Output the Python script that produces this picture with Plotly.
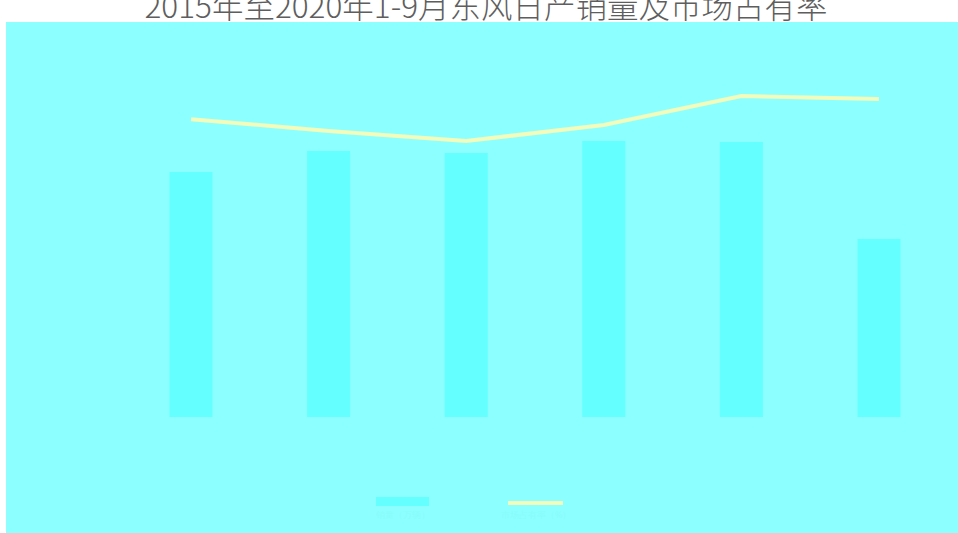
import plotly.graph_objects as go

# Data
years = ["2015", "2016", "2017", "2018", "2019", "2020年1-9月"]
sales = [115.6, 125.5, 124.5, 130.2, 129.7, 84.0]          # 万辆
share = [5.88, 5.51, 5.20, 5.70, 6.60, 6.51]               # %
legend_names = ["销量（万辆）", "市场占有率（%）"]
title_text = "2015年至2020年1-9月东风日产销量及市场占有率"

BG = "#8CFFFF"
BAR = "#64FFFF"
LINE = "#F2FCBC"

W, H = 958, 533
ML, MT = 6, 22
PW, PH = W - ML, H - MT

def px_x(px):
    return (px - ML) / PW

def px_y(py):
    return (H - py) / PH

x_idx = list(range(len(years)))

fig = go.Figure()
fig.add_trace(go.Bar(x=x_idx, y=sales, name=legend_names[0], marker=dict(color=BAR, line=dict(width=0)),
                     width=0.3125, showlegend=False, hoverinfo="skip"))
fig.add_trace(go.Scatter(x=x_idx, y=share, name=legend_names[1], mode="lines", yaxis="y2",
                         line=dict(color=LINE, width=4), showlegend=False, hoverinfo="skip"))

# axis ranges so that bar base sits at y=417px
k1 = 2.12
y1_range = [-(533 - 417) / k1, (417 - 22) / k1]
k2 = 32.14
y2_range = [6.6 - (533 - 96) / k2, 6.6 + (96 - 22) / k2]
step = 137.6
x_range = [(6 - 191) / step, (958 - 191) / step]

fig.update_layout(
    width=W, height=H,
    margin=dict(l=ML, r=0, t=MT, b=0, pad=0),
    paper_bgcolor="white",
    plot_bgcolor=BG,
    showlegend=False,
    title=dict(text=title_text, x=486 / W, xanchor="center",
               y=1 - 7 / H, yanchor="middle", yref="container",
               font=dict(family="Noto Sans CJK SC", size=31.5, color="#5e5e5e", weight=300)),
    xaxis=dict(range=x_range, visible=False, showgrid=False, zeroline=False),
    yaxis=dict(range=y1_range, visible=False, showgrid=False, zeroline=False),
    yaxis2=dict(range=y2_range, visible=False, showgrid=False, zeroline=False,
                overlaying="y", side="right"),
    shapes=[
        dict(type="rect", xref="paper", yref="paper", x0=px_x(376), x1=px_x(429),
             y0=px_y(506), y1=px_y(497), fillcolor=BAR, line=dict(width=0), layer="above"),
        dict(type="line", xref="paper", yref="paper", x0=px_x(508), x1=px_x(563),
             y0=px_y(503), y1=px_y(503), line=dict(color=LINE, width=4), layer="above"),
    ],
    annotations=[
        dict(text=legend_names[0], xref="paper", yref="paper", x=px_x(402), y=px_y(514),
             showarrow=False, font=dict(size=9, color="#88FBFB"), yanchor="middle"),
        dict(text=legend_names[1], xref="paper", yref="paper", x=px_x(536), y=px_y(514),
             showarrow=False, font=dict(size=9, color="#88FBFB"), yanchor="middle"),
    ],
)

fig.write_html("out.html", config={"displayModeBar": False},
               post_script="document.body.style.margin='0';document.body.style.overflow='hidden';")
